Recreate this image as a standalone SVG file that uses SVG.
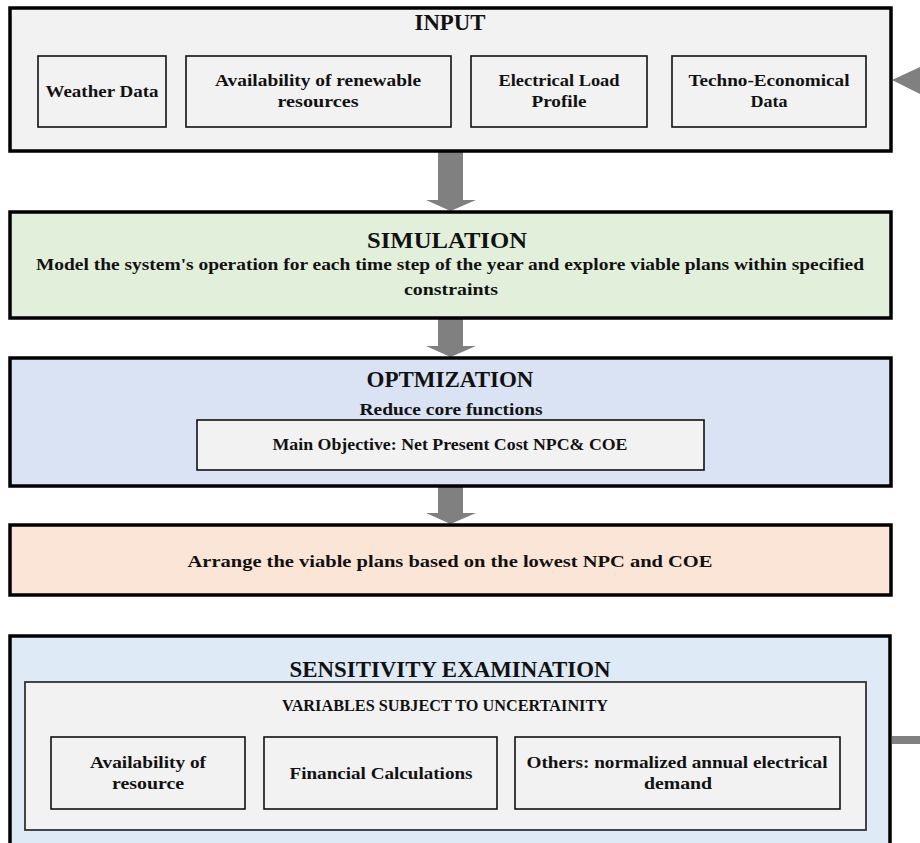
<svg xmlns="http://www.w3.org/2000/svg" width="920" height="843" viewBox="0 0 920 843">
  <style>
    .stage { stroke: #000; stroke-width: 3.5; }
    .sub { fill: #f2f2f2; stroke: #111; stroke-width: 1.6; }
    .frame { fill: #f2f2f2; stroke: #333; stroke-width: 1.8; }
    text { font-family: "Liberation Serif", "DejaVu Serif", serif; font-weight: bold; fill: #111; text-anchor: middle; }
    .title { font-size: 22.5px; }
    .body { font-size: 17.5px; }
    .arrow { fill: #808080; }
  </style>
  <rect width="920" height="843" fill="#ffffff"/>

  <!-- connectors -->
  <g id="connectors">
    <polygon class="arrow" points="438,152 463,152 463,200 476,200 450.5,211 426,200 438,200"/>
    <polygon class="arrow" points="438,319 463,319 463,346 476,346 450.5,357 426,346 438,346"/>
    <polygon class="arrow" points="438,487 463,487 463,513 476,513 450.5,524 426,513 438,513"/>
    <!-- feedback from sensitivity back to input (runs off the right edge) -->
    <rect class="arrow" x="892" y="736" width="30" height="8"/>
    <polygon class="arrow" points="892,80 922,66 922,95"/>
  </g>

  <!-- INPUT -->
  <g id="input">
    <rect class="stage" x="10" y="8" width="881" height="143" fill="#f2f2f2"/>
    <text class="title" x="450" y="30" textLength="71" lengthAdjust="spacingAndGlyphs">INPUT</text>
    <g id="weather-data">
      <rect class="sub" x="38" y="56" width="128" height="71"/>
      <text class="body" x="102" y="97" textLength="113" lengthAdjust="spacingAndGlyphs">Weather Data</text>
    </g>
    <g id="renewable-resources">
      <rect class="sub" x="186" y="56" width="265" height="71"/>
      <text class="body" x="318" y="86" textLength="206" lengthAdjust="spacingAndGlyphs">Availability of renewable</text>
      <text class="body" x="318" y="107" textLength="81" lengthAdjust="spacingAndGlyphs">resources</text>
    </g>
    <g id="load-profile">
      <rect class="sub" x="471" y="56" width="176" height="71"/>
      <text class="body" x="559" y="86" textLength="121" lengthAdjust="spacingAndGlyphs">Electrical Load</text>
      <text class="body" x="559" y="107" textLength="55" lengthAdjust="spacingAndGlyphs">Profile</text>
    </g>
    <g id="techno-economical">
      <rect class="sub" x="672" y="56" width="194" height="71"/>
      <text class="body" x="769" y="86" textLength="161" lengthAdjust="spacingAndGlyphs">Techno-Economical</text>
      <text class="body" x="769" y="107" textLength="37" lengthAdjust="spacingAndGlyphs">Data</text>
    </g>
  </g>

  <!-- SIMULATION -->
  <g id="simulation">
    <rect class="stage" x="10" y="212" width="881" height="106" fill="#e2efda"/>
    <text class="title" x="447" y="248" font-size="21.5" textLength="160" lengthAdjust="spacingAndGlyphs">SIMULATION</text>
    <text class="body" x="450" y="270" font-size="16.5" textLength="828" lengthAdjust="spacingAndGlyphs">Model the system's operation for each time step of the year and explore viable plans within specified</text>
    <text class="body" x="451" y="295" font-size="16.5" textLength="94" lengthAdjust="spacingAndGlyphs">constraints</text>
  </g>

  <!-- OPTIMIZATION -->
  <g id="optimization">
    <rect class="stage" x="10" y="358" width="881" height="128" fill="#dae3f3"/>
    <text class="title" x="450" y="387" font-size="21.5" textLength="167" lengthAdjust="spacingAndGlyphs">OPTMIZATION</text>
    <text class="body" x="451" y="415" font-size="16.5" textLength="183" lengthAdjust="spacingAndGlyphs">Reduce core functions</text>
    <g id="main-objective">
      <rect class="sub" x="197" y="420" width="507" height="50"/>
      <text class="body" x="450" y="450" font-size="16.5" textLength="355" lengthAdjust="spacingAndGlyphs">Main Objective: Net Present Cost NPC&amp; COE</text>
    </g>
  </g>

  <!-- RANKING -->
  <g id="ranking">
    <rect class="stage" x="10" y="525" width="881" height="70" fill="#fbe5d6"/>
    <text class="body" x="450" y="567" font-size="16.5" textLength="525" lengthAdjust="spacingAndGlyphs">Arrange the viable plans based on the lowest NPC and COE</text>
  </g>

  <!-- SENSITIVITY EXAMINATION -->
  <g id="sensitivity">
    <rect class="stage" x="10" y="636" width="880" height="220" fill="#deebf7"/>
    <text class="title" x="450" y="677" textLength="321" lengthAdjust="spacingAndGlyphs">SENSITIVITY EXAMINATION</text>
    <g id="uncertain-variables">
      <rect class="frame" x="25" y="682" width="841" height="148"/>
      <text class="body" x="445" y="711" font-size="16.5" textLength="326" lengthAdjust="spacingAndGlyphs">VARIABLES SUBJECT TO UNCERTAINITY</text>
      <g id="resource-availability">
        <rect class="sub" x="51" y="737" width="194" height="72"/>
        <text class="body" x="148" y="768" textLength="116" lengthAdjust="spacingAndGlyphs">Availability of</text>
        <text class="body" x="148" y="789" textLength="72" lengthAdjust="spacingAndGlyphs">resource</text>
      </g>
      <g id="financial-calculations">
        <rect class="sub" x="264" y="737" width="233" height="72"/>
        <text class="body" x="381" y="779" textLength="183" lengthAdjust="spacingAndGlyphs">Financial Calculations</text>
      </g>
      <g id="annual-demand">
        <rect class="sub" x="515" y="737" width="325" height="72"/>
        <text class="body" x="677" y="768" textLength="301" lengthAdjust="spacingAndGlyphs">Others: normalized annual electrical</text>
        <text class="body" x="678" y="789" textLength="68" lengthAdjust="spacingAndGlyphs">demand</text>
      </g>
    </g>
  </g>
</svg>
